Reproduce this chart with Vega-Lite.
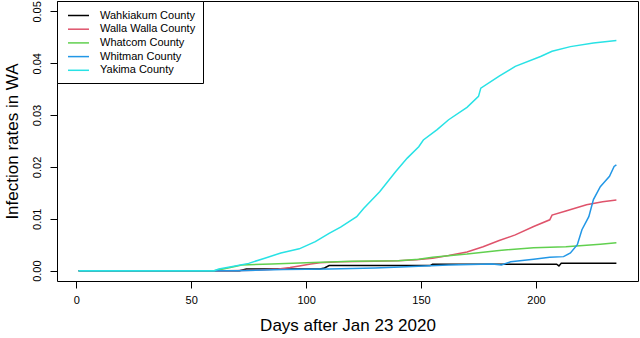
{
  "$schema": "https://vega.github.io/schema/vega-lite/v6.json",
  "width": 581,
  "height": 280,
  "autosize": "none",
  "padding": {"left": 57, "top": 1, "right": 2, "bottom": 57},
  "background": "white",
  "config": {
    "font": "Liberation Sans",
    "view": {"stroke": "black", "strokeWidth": 1}
  },
  "data": {
    "values": [
      {"c": "Wahkiakum County", "d": 1, "v": 0},
      {"c": "Wahkiakum County", "d": 71, "v": 0},
      {"c": "Wahkiakum County", "d": 74, "v": 0.0003},
      {"c": "Wahkiakum County", "d": 106, "v": 0.0003},
      {"c": "Wahkiakum County", "d": 108, "v": 0.0005},
      {"c": "Wahkiakum County", "d": 110, "v": 0.00097},
      {"c": "Wahkiakum County", "d": 154, "v": 0.00097},
      {"c": "Wahkiakum County", "d": 155, "v": 0.00124},
      {"c": "Wahkiakum County", "d": 209, "v": 0.00124},
      {"c": "Wahkiakum County", "d": 210, "v": 0.0009},
      {"c": "Wahkiakum County", "d": 211, "v": 0.0014},
      {"c": "Wahkiakum County", "d": 235, "v": 0.0014},
      {"c": "Walla Walla County", "d": 1, "v": 0},
      {"c": "Walla Walla County", "d": 65, "v": 0},
      {"c": "Walla Walla County", "d": 80, "v": 0.0001},
      {"c": "Walla Walla County", "d": 88, "v": 0.0003},
      {"c": "Walla Walla County", "d": 93, "v": 0.0006},
      {"c": "Walla Walla County", "d": 97, "v": 0.0009},
      {"c": "Walla Walla County", "d": 102, "v": 0.0013},
      {"c": "Walla Walla County", "d": 106, "v": 0.0015},
      {"c": "Walla Walla County", "d": 115, "v": 0.0017},
      {"c": "Walla Walla County", "d": 130, "v": 0.0018},
      {"c": "Walla Walla County", "d": 140, "v": 0.0019},
      {"c": "Walla Walla County", "d": 148, "v": 0.0021},
      {"c": "Walla Walla County", "d": 155, "v": 0.0024},
      {"c": "Walla Walla County", "d": 162, "v": 0.0029},
      {"c": "Walla Walla County", "d": 170, "v": 0.0036},
      {"c": "Walla Walla County", "d": 177, "v": 0.0046},
      {"c": "Walla Walla County", "d": 184, "v": 0.0058},
      {"c": "Walla Walla County", "d": 191, "v": 0.0069},
      {"c": "Walla Walla County", "d": 199, "v": 0.0085},
      {"c": "Walla Walla County", "d": 206, "v": 0.0098},
      {"c": "Walla Walla County", "d": 207, "v": 0.0107},
      {"c": "Walla Walla County", "d": 213, "v": 0.0115},
      {"c": "Walla Walla County", "d": 222, "v": 0.0127},
      {"c": "Walla Walla County", "d": 229, "v": 0.0133},
      {"c": "Walla Walla County", "d": 235, "v": 0.0136},
      {"c": "Whatcom County", "d": 1, "v": 0},
      {"c": "Whatcom County", "d": 60, "v": 0},
      {"c": "Whatcom County", "d": 65, "v": 0.0004},
      {"c": "Whatcom County", "d": 72, "v": 0.0011},
      {"c": "Whatcom County", "d": 85, "v": 0.0013},
      {"c": "Whatcom County", "d": 100, "v": 0.0015},
      {"c": "Whatcom County", "d": 120, "v": 0.0018},
      {"c": "Whatcom County", "d": 140, "v": 0.0019},
      {"c": "Whatcom County", "d": 149, "v": 0.0022},
      {"c": "Whatcom County", "d": 155, "v": 0.0026},
      {"c": "Whatcom County", "d": 170, "v": 0.0032},
      {"c": "Whatcom County", "d": 184, "v": 0.0039},
      {"c": "Whatcom County", "d": 199, "v": 0.0044},
      {"c": "Whatcom County", "d": 213, "v": 0.0046},
      {"c": "Whatcom County", "d": 228, "v": 0.0051},
      {"c": "Whatcom County", "d": 235, "v": 0.0054},
      {"c": "Whitman County", "d": 1, "v": 0},
      {"c": "Whitman County", "d": 70, "v": 0},
      {"c": "Whitman County", "d": 90, "v": 0.0002},
      {"c": "Whitman County", "d": 110, "v": 0.0003},
      {"c": "Whitman County", "d": 130, "v": 0.0005},
      {"c": "Whitman County", "d": 141, "v": 0.0007},
      {"c": "Whitman County", "d": 162, "v": 0.0011},
      {"c": "Whitman County", "d": 181, "v": 0.0013},
      {"c": "Whitman County", "d": 185, "v": 0.0011},
      {"c": "Whitman County", "d": 189, "v": 0.0017},
      {"c": "Whitman County", "d": 199, "v": 0.0022},
      {"c": "Whitman County", "d": 206, "v": 0.0026},
      {"c": "Whitman County", "d": 212, "v": 0.0027},
      {"c": "Whitman County", "d": 215, "v": 0.0034},
      {"c": "Whitman County", "d": 218, "v": 0.005},
      {"c": "Whitman County", "d": 220, "v": 0.0079},
      {"c": "Whitman County", "d": 223, "v": 0.0104},
      {"c": "Whitman County", "d": 225, "v": 0.0137},
      {"c": "Whitman County", "d": 228, "v": 0.0162},
      {"c": "Whitman County", "d": 230, "v": 0.0172},
      {"c": "Whitman County", "d": 232, "v": 0.0182},
      {"c": "Whitman County", "d": 234, "v": 0.0201},
      {"c": "Whitman County", "d": 235, "v": 0.0204},
      {"c": "Yakima County", "d": 1, "v": 0},
      {"c": "Yakima County", "d": 60, "v": 0},
      {"c": "Yakima County", "d": 62, "v": 0.0003},
      {"c": "Yakima County", "d": 68, "v": 0.0008},
      {"c": "Yakima County", "d": 75, "v": 0.0014},
      {"c": "Yakima County", "d": 82, "v": 0.0024},
      {"c": "Yakima County", "d": 89, "v": 0.0034},
      {"c": "Yakima County", "d": 97, "v": 0.0042},
      {"c": "Yakima County", "d": 104, "v": 0.0056},
      {"c": "Yakima County", "d": 110, "v": 0.0072},
      {"c": "Yakima County", "d": 115, "v": 0.0084},
      {"c": "Yakima County", "d": 122, "v": 0.0104},
      {"c": "Yakima County", "d": 125, "v": 0.012},
      {"c": "Yakima County", "d": 132, "v": 0.0152},
      {"c": "Yakima County", "d": 139, "v": 0.0191},
      {"c": "Yakima County", "d": 144, "v": 0.0217},
      {"c": "Yakima County", "d": 149, "v": 0.0239},
      {"c": "Yakima County", "d": 151, "v": 0.0252},
      {"c": "Yakima County", "d": 157, "v": 0.0272},
      {"c": "Yakima County", "d": 162, "v": 0.0291},
      {"c": "Yakima County", "d": 170, "v": 0.0315},
      {"c": "Yakima County", "d": 175, "v": 0.0336},
      {"c": "Yakima County", "d": 176, "v": 0.0352},
      {"c": "Yakima County", "d": 184, "v": 0.0375},
      {"c": "Yakima County", "d": 191, "v": 0.0394},
      {"c": "Yakima County", "d": 202, "v": 0.0413},
      {"c": "Yakima County", "d": 207, "v": 0.0423},
      {"c": "Yakima County", "d": 215, "v": 0.0432},
      {"c": "Yakima County", "d": 225, "v": 0.0439},
      {"c": "Yakima County", "d": 235, "v": 0.0444}
    ]
  },
  "mark": {"type": "line", "strokeWidth": 1.5, "clip": true},
  "encoding": {
    "x": {
      "field": "d",
      "type": "quantitative",
      "scale": {"domain": [-8.4, 244.4], "nice": false, "zero": false},
      "axis": {
        "values": [0, 50, 100, 150, 200],
        "grid": false,
        "domain": false,
        "tickColor": "black",
        "tickSize": 7,
        "labelFontSize": 11,
        "labelColor": "black",
        "labelPadding": 6,
        "title": "Days after Jan 23 2020",
        "titleFontSize": 17,
        "titleFontWeight": "normal",
        "titleColor": "black",
        "titlePadding": 12
      }
    },
    "y": {
      "field": "v",
      "type": "quantitative",
      "scale": {"domain": [-0.002, 0.052], "nice": false, "zero": false},
      "axis": {
        "values": [0, 0.01, 0.02, 0.03, 0.04, 0.05],
        "format": ".2f",
        "grid": false,
        "domain": false,
        "tickColor": "black",
        "tickSize": 7,
        "labelFontSize": 11,
        "labelColor": "black",
        "labelAngle": 270,
        "labelAlign": "center",
        "labelBaseline": "bottom",
        "labelPadding": 8,
        "title": "Infection rates in WA",
        "titleFontSize": 17,
        "titleFontWeight": "normal",
        "titleColor": "black",
        "titlePadding": 10
      }
    },
    "color": {
      "field": "c",
      "type": "nominal",
      "scale": {
        "domain": ["Wahkiakum County", "Walla Walla County", "Whatcom County", "Whitman County", "Yakima County"],
        "range": ["#000000", "#DF536B", "#61D04F", "#2297E6", "#28E2E5"]
      },
      "legend": {
        "title": null,
        "orient": "top-left",
        "offset": 0,
        "fillColor": "white",
        "strokeColor": "black",
        "padding": 7,
        "symbolType": "M-0.54,0H2.69",
        "symbolSize": 169,
        "symbolStrokeWidth": 1.5,
        "labelFontSize": 11,
        "labelColor": "black",
        "labelOffset": 21,
        "rowPadding": 0.7
      }
    }
  }
}
